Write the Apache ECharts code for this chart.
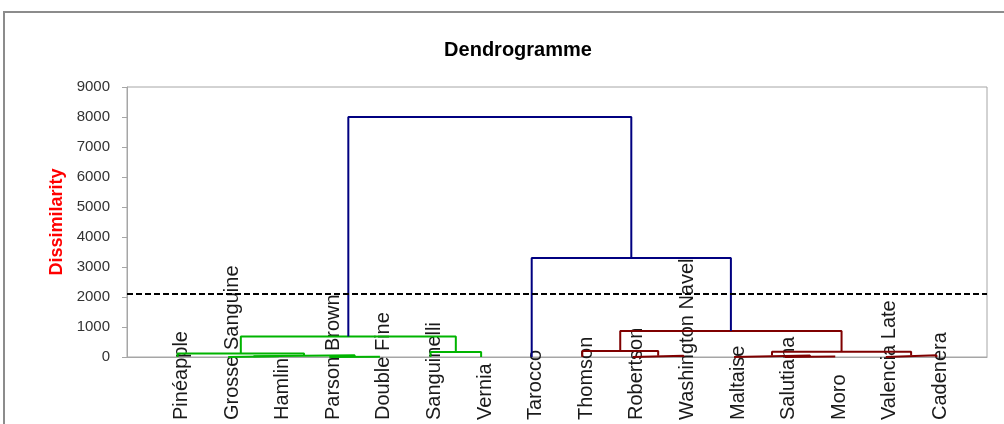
<html style="height: 100%">

<head>
    <meta charset="utf-8">
</head>

<body style="height: 100%; margin: 0">
    <div id="container" style="width: 1004px; height: 424px"></div>

    <script type="text/javascript" src="https://cdn.jsdelivr.net/npm/echarts@6/dist/echarts.min.js"></script>

    <script type="text/javascript">
        // leaves, left to right
        var leaves = ['Pinéapple', 'Grosse Sanguine', 'Hamlin', 'Parson Brown', 'Double Fine', 'Sanguinelli', 'Vernia',
            'Tarocco', 'Thomson', 'Robertson', 'Washington Navel', 'Maltaise', 'Salutiana', 'Moro', 'Valencia Late', 'Cadenera'];

        // merges: [child a, child b, dissimilarity]; ids 0-15 are leaves, merge k gets id 16 + k
        var merges = [
            [1, 2, 25],
            [3, 4, 10],
            [16, 17, 60],
            [0, 18, 120],
            [5, 6, 170],
            [19, 20, 680],
            [9, 10, 40],
            [8, 22, 200],
            [12, 13, 15],
            [11, 24, 50],
            [14, 15, 60],
            [25, 26, 175],
            [23, 27, 870],
            [7, 28, 3300],
            [21, 29, 8000]
        ];
        var mergeGroup = ['g', 'g', 'g', 'g', 'g', 'g', 'r', 'r', 'r', 'r', 'r', 'r', 'r', 'b', 'b'];
        var cutLevel = 2100;

        var groupColor = { g: '#00b400', r: '#7f0000', b: '#000080' };

        var chartDom = document.getElementById('container');
        var myChart = echarts.init(chartDom);
        var option;

        // x position and height of every node
        var pos = [];
        var height = [];
        for (var i = 0; i < leaves.length; i++) {
            pos.push(i + 1);
            height.push(0);
        }
        var series = [];
        merges.forEach(function (m, k) {
            var a = m[0], b = m[1], h = m[2];
            pos.push((pos[a] + pos[b]) / 2);
            height.push(h);
            series.push({
                type: 'line',
                silent: true,
                symbol: 'none',
                animation: false,
                lineStyle: { color: groupColor[mergeGroup[k]], width: 2 },
                z: mergeGroup[k] === 'b' ? 3 : 2,
                data: [[pos[a], height[a]], [pos[a], h], [pos[b], h], [pos[b], height[b]]]
            });
        });
        series.push({
            type: 'line',
            silent: true,
            symbol: 'none',
            animation: false,
            lineStyle: { color: '#000', width: 2, type: [6, 3] },
            z: 4,
            data: [[0, cutLevel], [leaves.length + 1, cutLevel]]
        });

        option = {
            animation: false,
            backgroundColor: '#fff',
            textStyle: { fontFamily: 'Liberation Sans' },
            title: {
                text: 'Dendrogramme',
                left: 513,
                top: 35,
                textAlign: 'center',
                textStyle: { fontSize: 20, fontWeight: 'bold', color: '#000', fontFamily: 'Liberation Sans' }
            },
            graphic: [{
                type: 'rect',
                shape: { x: 4, y: 12, width: 1100, height: 500 },
                style: { fill: 'none', stroke: '#8c8c8c', lineWidth: 2 },
                silent: true
            }],
            grid: {
                left: 127,
                right: 17,
                top: 87,
                bottom: 67,
                show: true,
                borderColor: '#a6a6a6',
                borderWidth: 1
            },
            xAxis: {
                type: 'value',
                min: 0,
                max: leaves.length + 1,
                interval: 1,
                axisLine: { lineStyle: { color: '#a6a6a6' } },
                axisTick: { show: false },
                splitLine: { show: false },
                axisLabel: {
                    rotate: 90,
                    align: 'left',
                    verticalAlign: 'top',
                    lineHeight: 8,
                    margin: 63,
                    fontSize: 20,
                    color: '#1a1a1a',
                    formatter: function (v) { return leaves[v - 1] || ''; }
                }
            },
            yAxis: {
                type: 'value',
                min: 0,
                max: 9000,
                interval: 1000,
                name: 'Dissimilarity',
                nameLocation: 'middle',
                nameGap: 57,
                nameTextStyle: { color: '#ff0000', fontWeight: 'bold', fontSize: 18 },
                axisLine: { show: true, lineStyle: { color: '#a6a6a6' } },
                axisTick: { show: true, length: 5, lineStyle: { color: '#a6a6a6' } },
                splitLine: { show: false },
                axisLabel: {
                    fontSize: 15,
                    color: '#333',
                    margin: 17,
                    formatter: function (v) { return String(v); }
                }
            },
            series: series
        };

        option && myChart.setOption(option);
    </script>
</body>

</html>
